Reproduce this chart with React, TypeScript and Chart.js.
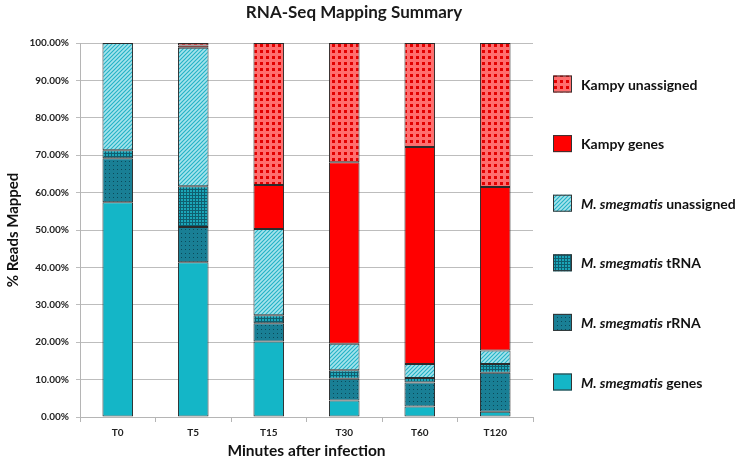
import React, { useEffect, useRef } from "react";
import { Chart, registerables } from "chart.js";

Chart.register(...registerables);

const categories = ["T0", "T5", "T15", "T30", "T60", "T120"];
const msGenes = [57.4, 41.4, 20.2, 4.4, 2.8, 1.4];
const msRRNA = [11.8, 9.4, 4.9, 5.8, 6.4, 10.4];
const msTRNA = [2.1, 10.9, 2.1, 2.3, 1.2, 2.4];
const msUnassigned = [28.7, 37.0, 23.1, 7.1, 3.8, 3.6];
const kampyGenes = [0, 0.6, 11.7, 48.5, 58.0, 43.7];
const kampyUnassigned = [0, 0.7, 38.0, 31.9, 27.8, 38.5];
const yTicks = [0, 10, 20, 30, 40, 50, 60, 70, 80, 90, 100];

const FONT = "Lato, 'Open Sans', sans-serif";

function makePattern(kind: string): CanvasPattern | string {
  const c = document.createElement("canvas");
  const ctx = c.getContext("2d");
  if (!ctx) return "#888";
  if (kind === "stripes") {
    c.width = 4; c.height = 4;
    ctx.fillStyle = "#a6e3ec";
    ctx.fillRect(0, 0, 4, 4);
    ctx.strokeStyle = "#22b2c6";
    ctx.lineWidth = 1.1;
    ctx.beginPath();
    ctx.moveTo(-1, 5); ctx.lineTo(5, -1);
    ctx.moveTo(-1, 1); ctx.lineTo(1, -1);
    ctx.moveTo(3, 5); ctx.lineTo(5, 3);
    ctx.stroke();
  } else if (kind === "grid") {
    c.width = 3; c.height = 3;
    ctx.fillStyle = "#1ba6b9";
    ctx.fillRect(0, 0, 3, 3);
    ctx.fillStyle = "#0f5f70";
    ctx.fillRect(0, 0, 3, 1);
    ctx.fillRect(0, 0, 1, 3);
  } else if (kind === "dots") {
    c.width = 4; c.height = 4;
    ctx.fillStyle = "#197f95";
    ctx.fillRect(0, 0, 4, 4);
    ctx.fillStyle = "#0b4a5a";
    ctx.fillRect(1, 1, 1, 1);
  } else if (kind === "checker") {
    c.width = 6; c.height = 6;
    ctx.fillStyle = "#ff6e6e";
    ctx.fillRect(0, 0, 6, 6);
    ctx.fillStyle = "#e30000";
    ctx.fillRect(2, 2, 3, 3);
  }
  const p = ctx.createPattern(c, "repeat");
  return p || "#888";
}

const legendNames: string[][] = [
  ["M. smegmatis", " genes"],
  ["M. smegmatis", " rRNA"],
  ["M. smegmatis", " tRNA"],
  ["M. smegmatis", " unassigned"],
  ["", "Kampy genes"],
  ["", "Kampy unassigned"],
];

export default function App() {
  const ref = useRef<HTMLCanvasElement | null>(null);
  useEffect(() => {
    if (!ref.current) return;
    const fills = [
      "#14b6c7",
      makePattern("dots"),
      makePattern("grid"),
      makePattern("stripes"),
      "#ff0000",
      makePattern("checker"),
    ];
    const series = [msGenes, msRRNA, msTRNA, msUnassigned, kampyGenes, kampyUnassigned];

    const titlePlugin = {
      id: "customTitleLegend",
      afterDraw(chart: any) {
        const ctx = chart.ctx as CanvasRenderingContext2D;
        ctx.save();
        ctx.fillStyle = "#1a1a1a";
        ctx.font = `bold 17px ${FONT}`;
        ctx.textAlign = "center";
        ctx.textBaseline = "middle";
        ctx.fillText("RNA-Seq Mapping Summary", 354, 13);

        // legend
        const n = chart.data.datasets.length;
        for (let i = n - 1; i >= 0; i--) {
          const ds = chart.data.datasets[i];
          const cy = 84 + (n - 1 - i) * 59.6;
          const bx = 553, bw = 19, bh = 17;
          ctx.fillStyle = ds.backgroundColor;
          ctx.fillRect(bx, cy - bh / 2, bw, bh);
          ctx.strokeStyle = "#333";
          ctx.lineWidth = 1;
          ctx.strokeRect(bx + 0.5, cy - bh / 2 + 0.5, bw - 1, bh - 1);
          const [it, rest] = legendNames[i];
          let x = 581;
          ctx.textAlign = "left";
          ctx.fillStyle = "#111";
          if (it) {
            ctx.font = `italic bold 14px ${FONT}`;
            ctx.fillText(it, x, cy + 1);
            x += ctx.measureText(it).width;
          }
          ctx.font = `bold 14px ${FONT}`;
          ctx.fillText(rest, x, cy + 1);
        }
        ctx.restore();
      },
    };

    const chart = new Chart(ref.current, {
      type: "bar",
      data: {
        labels: categories,
        datasets: series.map((d, i) => ({
          label: legendNames[i].join(""),
          data: d,
          backgroundColor: fills[i] as any,
          borderColor: "#2b2b2b",
          borderWidth: 1,
          borderSkipped: false,
          categoryPercentage: 1,
          barPercentage: 0.405,
        })),
      },
      options: {
        responsive: false,
        animation: false,
        layout: { padding: { top: 43, right: 217, bottom: 0, left: 0 } },
        plugins: {
          legend: { display: false },
          title: { display: false },
          tooltip: { enabled: false },
        },
        scales: {
          x: {
            stacked: true,
            grid: {
              drawOnChartArea: false,
              drawTicks: true,
              tickLength: 5,
              color: "#b5b5b5",
            },
            border: { color: "#b5b5b5" },
            ticks: {
              color: "#222",
              font: { family: FONT, size: 10, weight: "bold" },
              padding: 5,
            },
            title: {
              display: true,
              text: "Minutes after infection",
              color: "#111",
              font: { family: FONT, size: 15.5, weight: "bold" },
              padding: { top: 0, bottom: 2 },
            },
            afterFit(scale: any) {
              scale.height = 45;
            },
          },
          y: {
            stacked: true,
            min: 0,
            max: 100,
            afterBuildTicks(scale: any) {
              scale.ticks = yTicks.map((v) => ({ value: v }));
            },
            grid: { color: "#bdbdbd", tickLength: 4 },
            border: { color: "#b5b5b5" },
            ticks: {
              color: "#222",
              font: { family: FONT, size: 10, weight: "bold" },
              padding: 7,
              callback: (v: any) => Number(v).toFixed(2) + "%",
            },
            title: {
              display: true,
              text: "% Reads Mapped",
              color: "#111",
              font: { family: FONT, size: 15, weight: "bold" },
              padding: { top: 4, bottom: 0 },
            },
            afterFit(scale: any) {
              scale.width = 80;
            },
          },
        },
      },
      plugins: [titlePlugin],
    });
    return () => chart.destroy();
  }, []);
  return (
    <div style={{ position: "fixed", left: 0, top: 0, width: 750, height: 462, background: "#fff" }}>
      <canvas ref={ref} width={750} height={462} style={{ display: "block" }} />
    </div>
  );
}
